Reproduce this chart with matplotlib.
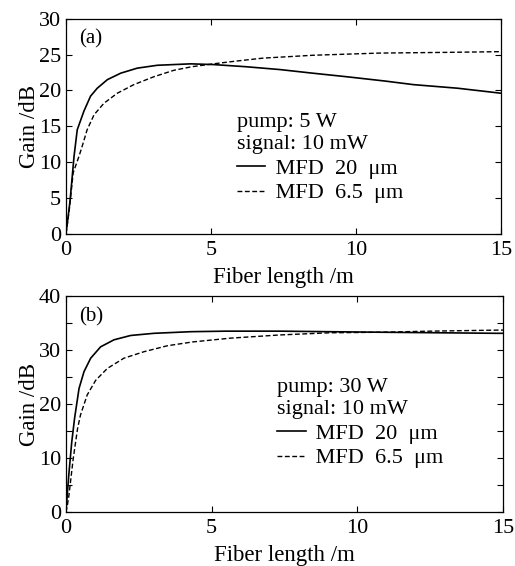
import matplotlib
matplotlib.use("Agg")
import matplotlib.pyplot as plt
from matplotlib.lines import Line2D
from matplotlib.ticker import MultipleLocator

plt.rcParams["font.family"] = ["Liberation Serif", "DejaVu Serif"]

# (a) pump 5 W
xa_20 = [0, 0.07, 0.14, 0.28, 0.39, 0.62, 0.85, 1.08, 1.43, 1.89, 2.46, 3.15,
         4.3, 5.08, 6.2, 7.38, 8.5, 9.68, 11.0, 11.98, 13.5, 15]
ya_20 = [0, 2.2, 4.5, 10.8, 14.5, 17.1, 19.2, 20.3, 21.5, 22.4, 23.1, 23.5,
         23.7, 23.6, 23.3, 22.9, 22.4, 21.9, 21.3, 20.8, 20.3, 19.6]
xa_65 = [0, 0.06, 0.12, 0.25, 0.45, 0.56, 0.73, 0.97, 1.31, 1.77, 2.34, 3.03,
         3.72, 4.34, 5.08, 5.9, 6.8, 8.53, 10.8, 13.1, 15]
ya_65 = [0, 1.6, 3.5, 8.5, 10.8, 12.2, 14.5, 16.6, 18.2, 19.6, 20.8, 21.9,
         22.8, 23.3, 23.7, 24.1, 24.5, 24.9, 25.2, 25.3, 25.4]

# (b) pump 30 W
xb_20 = [0, 0.05, 0.1, 0.2, 0.3, 0.45, 0.62, 0.85, 1.19, 1.65, 2.22, 3.02,
         4.28, 5.5, 7.35, 9.0, 10.8, 12.8, 14.8, 15]
yb_20 = [0, 3.5, 7.0, 13.0, 17.5, 22.9, 26.0, 28.5, 30.6, 31.9, 32.7, 33.1,
         33.4, 33.5, 33.5, 33.4, 33.3, 33.2, 33.1, 33.1]
xb_65 = [0, 0.05, 0.1, 0.25, 0.4, 0.5, 0.73, 1.02, 1.42, 1.99, 2.68, 3.48,
         4.34, 5.63, 7.35, 9.06, 10.8, 12.5, 14.9, 15]
yb_65 = [0, 1.3, 3.0, 9.9, 15.5, 18.0, 21.7, 24.4, 26.6, 28.5, 29.7, 30.8,
         31.5, 32.2, 32.8, 33.2, 33.3, 33.5, 33.7, 33.7]

panels = [
    ("(a)", "pump: 5 W", xa_20, ya_20, xa_65, ya_65, 30, 5, None),
    ("(b)", "pump: 30 W", xb_20, yb_20, xb_65, yb_65, 40, 10, 5),
]

fig = plt.figure(figsize=(5.15, 5.66), dpi=100)
axes = [fig.add_axes([0.128, 0.587, 0.845, 0.380]),
        fig.add_axes([0.128, 0.095, 0.849, 0.382])]
legend_pos = [(0.392, 0.562), (0.482, 0.622)]
dash = (3.5, 1.8)

for ax, p, lpos in zip(axes, panels, legend_pos):
    tag, pump, x1, y1, x2, y2, ymax, ystep, yminor = p
    ax.plot(x1, y1, color="black", lw=1.2)
    ax.plot(x2, y2, color="black", lw=1.0, dashes=dash)
    ax.set_xlim(0, 15)
    ax.set_ylim(0, ymax)
    ax.xaxis.set_major_locator(MultipleLocator(5))
    ax.yaxis.set_major_locator(MultipleLocator(ystep))
    if yminor:
        ax.yaxis.set_minor_locator(MultipleLocator(yminor))
    ax.tick_params(which="both", direction="in", top=True, right=True,
                   labelsize=16, length=4, width=0.8)
    ax.tick_params(axis="x", pad=5)
    ax.tick_params(axis="y", pad=3.5)
    ax.set_xlabel("Fiber length /m", fontsize=16.5, labelpad=5)
    ax.set_ylabel("Gain /dB", fontsize=16.5, labelpad=-1)
    for s in ax.spines.values():
        s.set_linewidth(0.9)
    ax.text(0.03, 0.95, tag, transform=ax.transAxes, fontsize=15,
            ha="left", va="top")
    handles = [Line2D([], [], color="black", lw=1.2),
               Line2D([], [], color="black", lw=1.0, dashes=dash)]
    leg = ax.legend(handles, [" MFD  20  μm", " MFD  6.5  μm"],
                    title=pump + "\nsignal: 10 mW", title_fontsize=16,
                    fontsize=16, frameon=False, alignment="left",
                    loc="upper left", bbox_to_anchor=lpos,
                    handlelength=1.3, handletextpad=0.2,
                    labelspacing=0.18, borderpad=0, borderaxespad=0)
    leg.get_title().set_linespacing(1.25)

fig.savefig("out.png", dpi=100, facecolor="white")
